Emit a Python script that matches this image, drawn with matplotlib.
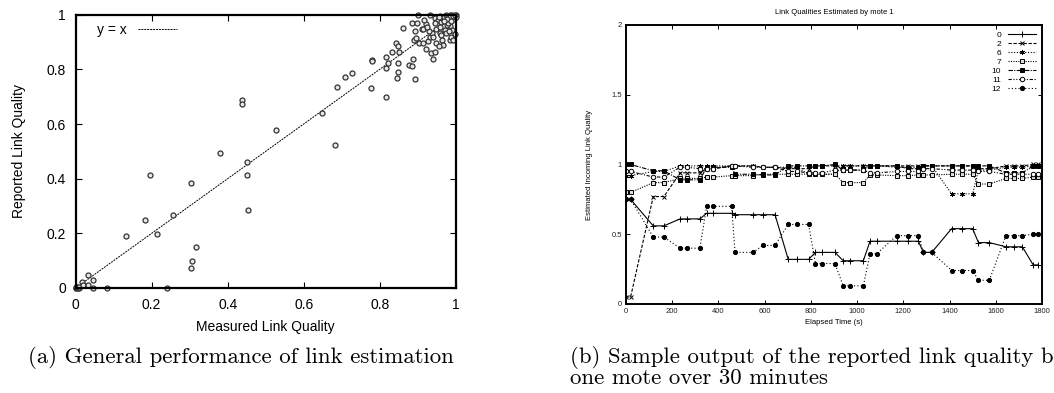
import matplotlib
matplotlib.use("Agg")
import matplotlib.pyplot as plt
import numpy as np

# (a) measured vs reported link quality
measured = [0, 0, 0, 0.003, 0.005, 0.008, 0.01, 0.016, 0.02, 0.032, 0.032, 0.046, 0.046, 0.083, 0.24,
            0.133, 0.182, 0.196, 0.215, 0.257, 0.303, 0.307, 0.316, 0.303, 0.381, 0.437, 0.437, 0.45, 0.45,
            0.454, 0.527, 0.649, 0.683, 0.689, 0.709, 0.726, 0.779, 0.781, 0.777, 0.816, 0.817, 0.818,
            0.821, 0.832, 0.842, 0.847, 0.845, 0.849, 0.849, 0.851, 0.861, 0.877, 0.886, 0.889, 0.893,
            0.884, 0.899, 0.893, 0.891, 0.896, 0.904, 0.913, 0.902, 0.911, 0.915, 0.921, 0.922, 0.928,
            0.932, 0.937, 0.941, 0.934, 0.941, 0.946, 0.932, 0.946, 0.954, 0.948, 0.949, 0.958, 0.962,
            0.965, 0.971, 0.975, 0.968, 0.955, 0.962, 0.965, 0.984, 0.984, 0.988, 0.993, 0.976, 0.98,
            0.96, 0.97, 0.975, 0.98, 0.985, 0.99, 0.99, 0.995, 1.0, 0.995, 0.985, 0.978, 0.992, 1.0,
            0.998, 0.988, 0.97, 0.955, 0.945, 0.93, 0.925, 0.918, 0.96, 0.99, 0.997, 0.982]
reported = [0, 0, 0.002, 0.003, 0.0, 0.0, 0.005, 0.023, 0.01, 0.01, 0.048, 0.029, 0.0, 0.0, 0.0,
            0.190, 0.249, 0.413, 0.198, 0.266, 0.072, 0.100, 0.151, 0.385, 0.495, 0.688, 0.673, 0.46, 0.413,
            0.285, 0.578, 0.639, 0.523, 0.737, 0.771, 0.785, 0.834, 0.832, 0.732, 0.698, 0.846, 0.804,
            0.824, 0.865, 0.898, 0.886, 0.767, 0.791, 0.824, 0.862, 0.95, 0.816, 0.812, 0.838, 0.764,
            0.971, 0.971, 0.941, 0.907, 0.913, 0.898, 0.895, 0.999, 0.946, 0.946, 0.966, 0.873, 0.902,
            0.92, 0.932, 0.92, 0.859, 0.837, 0.863, 0.999, 0.987, 0.981, 0.948, 0.895, 0.932, 0.926,
            0.907, 0.944, 0.932, 0.89, 0.884, 0.975, 0.987, 0.957, 0.907, 0.92, 0.907, 0.963, 0.971,
            0.995, 0.99, 1.0, 0.995, 1.0, 0.99, 1.0, 0.995, 1.0, 0.985, 0.99, 0.985, 0.996, 0.99,
            0.998, 0.978, 0.978, 0.993, 0.97, 0.94, 0.955, 0.98, 0.955, 0.945, 0.93, 0.94]

# (b) link qualities estimated by mote 1
elapsed = [0, 20, 118, 164, 234, 263, 320, 349, 378, 457, 472, 551, 591, 645, 702, 740, 790, 820,
           850, 904, 940, 969, 1027, 1056, 1085, 1171, 1221, 1265, 1287, 1323, 1409, 1453, 1500,
           1525, 1572, 1644, 1679, 1715, 1762, 1784]
mote0 = [0.75, 0.75, 0.56, 0.56, 0.61, 0.61, 0.61, 0.65, 0.65, 0.65, 0.64, 0.64, 0.64, 0.64, 0.32,
         0.32, 0.32, 0.37, 0.37, 0.37, 0.31, 0.31, 0.31, 0.45, 0.45, 0.45, 0.45, 0.45, 0.37, 0.37,
         0.54, 0.54, 0.54, 0.44, 0.44, 0.41, 0.41, 0.41, 0.28, 0.28]
mote2 = [0.05, 0.05, 0.77, 0.77, 0.94, 0.94, 0.94, 0.97, 0.97, 0.99, 0.99, 0.99, 0.98, 0.98, 0.97,
         0.97, 0.97, 0.99, 0.99, 0.99, 0.99, 0.99, 0.99, 0.99, 0.99, 0.99, 0.99, 0.99, 0.99, 0.99,
         0.99, 0.99, 0.99, 0.97, 0.97, 0.99, 0.99, 0.99, 1.0, 1.0]
mote6 = [0.92, 0.92, 0.95, 0.95, 0.99, 0.99, 0.99, 0.99, 0.99, 0.99, 0.99, 0.99, 0.98, 0.98, 0.98,
         0.98, 0.93, 0.93, 0.93, 0.93, 0.99, 0.99, 0.99, 0.99, 0.99, 0.98, 0.98, 0.98, 0.99, 0.99,
         0.79, 0.79, 0.79, 0.96, 0.96, 0.98, 0.98, 0.98, 0.99, 0.99]
mote7 = [0.80, 0.80, 0.87, 0.87, 0.90, 0.90, 0.90, 0.91, 0.91, 0.92, 0.92, 0.92, 0.93, 0.93, 0.93,
         0.93, 0.93, 0.93, 0.93, 0.93, 0.87, 0.87, 0.87, 0.925, 0.925, 0.92, 0.92, 0.925, 0.925,
         0.925, 0.93, 0.93, 0.93, 0.86, 0.86, 0.90, 0.90, 0.90, 0.91, 0.91]
mote10 = [1.0, 1.0, 0.955, 0.955, 0.89, 0.89, 0.89, 0.98, 0.98, 0.98, 0.93, 0.93, 0.925, 0.925,
          0.99, 0.99, 0.99, 0.99, 0.99, 1.0, 0.96, 0.96, 0.96, 0.99, 0.99, 0.99, 0.97, 0.97, 0.99,
          0.99, 0.99, 0.99, 0.99, 0.99, 0.99, 0.94, 0.94, 0.94, 0.99, 0.99]
mote11 = [0.95, 0.95, 0.91, 0.91, 0.98, 0.98, 0.97, 0.97, 0.97, 0.99, 0.99, 0.98, 0.98, 0.98, 0.95,
          0.95, 0.94, 0.94, 0.94, 0.96, 0.96, 0.96, 0.96, 0.94, 0.94, 0.95, 0.95, 0.95, 0.97, 0.97,
          0.96, 0.96, 0.96, 0.95, 0.95, 0.93, 0.93, 0.93, 0.93, 0.93]
mote12 = [0.75, 0.75, 0.48, 0.48, 0.40, 0.40, 0.40, 0.70, 0.70, 0.70, 0.37, 0.37, 0.42, 0.42, 0.57,
          0.57, 0.57, 0.29, 0.29, 0.29, 0.13, 0.13, 0.13, 0.36, 0.36, 0.49, 0.49, 0.49, 0.37, 0.37,
          0.24, 0.24, 0.24, 0.17, 0.17, 0.49, 0.49, 0.49, 0.50, 0.50]
mote_labels = ["0", "2", "6", "7", "10", "11", "12"]

sans = "Liberation Sans"
fig = plt.figure(figsize=(10.54, 3.93), dpi=100)

# ---- left panel
ax1 = fig.add_axes([0.0718, 0.2672, 0.3605, 0.6954])
ax1.plot([0, 1], [0, 1], color="black", linestyle=(0, (2, 1)), linewidth=0.7, label="y = x")
ax1.plot(measured, reported, linestyle="none", marker="o", markersize=3.6,
         markerfacecolor="#e8e8e8", markeredgecolor="#333333", markeredgewidth=0.9, clip_on=False)
ax1.set_xlim(0, 1)
ax1.set_ylim(0, 1)
ax1.set_xticks(np.arange(0, 1.01, 0.2))
ax1.set_yticks(np.arange(0, 1.01, 0.2))
ax1.set_xticklabels(["0", "0.2", "0.4", "0.6", "0.8", "1"], fontfamily=sans, fontsize=10)
ax1.set_yticklabels(["0", "0.2", "0.4", "0.6", "0.8", "1"], fontfamily=sans, fontsize=10)
ax1.tick_params(direction="in", top=True, right=True, length=4, width=0.8, pad=7)
for s in ax1.spines.values():
    s.set_linewidth(1.6)
ax1.set_xlabel("Measured Link Quality", fontfamily=sans, fontsize=10, labelpad=6)
ax1.set_ylabel("Reported Link Quality", fontfamily=sans, fontsize=10, labelpad=15)
ax1.legend(loc="upper left", frameon=False, markerfirst=False, handlelength=2.8,
           prop={"family": sans, "size": 10}, borderaxespad=0.2, bbox_to_anchor=(0.035, 1.0))

# ---- right panel
ax2 = fig.add_axes([0.5939, 0.2265, 0.3947, 0.7099])
series = [mote0, mote2, mote6, mote7, mote10, mote11, mote12]
styles = [
    dict(linestyle="-", marker="+", markersize=4, mfc="black"),
    dict(linestyle=(0, (3, 1.5)), marker="x", markersize=3, mfc="black"),
    dict(linestyle=(0, (1, 1.5)), marker=(6, 2, 0), markersize=3.5, mfc="black"),
    dict(linestyle=(0, (1, 1.2)), marker="s", markersize=3.2, mfc="#dddddd"),
    dict(linestyle=(0, (4, 1.2, 1, 1.2)), marker="s", markersize=3.2, mfc="black"),
    dict(linestyle=(0, (3, 1.5, 1, 1.5, 1, 1.5)), marker="o", markersize=3.2, mfc="white"),
    dict(linestyle=(0, (1, 2)), marker="o", markersize=3.0, mfc="black"),
]
for vals, lab, st in zip(series, mote_labels, styles):
    ax2.plot(elapsed, vals, color="black", linewidth=0.8, label=lab,
             markeredgecolor="black", markeredgewidth=0.7, **st)
ax2.set_xlim(0, 1800)
ax2.set_ylim(0, 2)
ax2.set_xticks(np.arange(0, 1801, 200))
ax2.set_yticks([0, 0.5, 1, 1.5, 2])
ax2.set_yticklabels(["0", "0.5", "1", "1.5", "2"])
ax2.tick_params(direction="in", top=True, right=True, length=3, width=0.7, pad=3, labelsize=5.5,
                labelcolor="#222222")
for lbl in ax2.get_xticklabels() + ax2.get_yticklabels():
    lbl.set_fontfamily(sans)
for s in ax2.spines.values():
    s.set_linewidth(1.4)
ax2.set_xlabel("Elapsed Time (s)", fontfamily=sans, fontsize=5.5, labelpad=3)
ax2.set_ylabel("Estimated Incoming Link Quality", fontfamily=sans, fontsize=5.5, labelpad=13)
ax2.set_title("Link Qualities Estimated by mote 1", fontfamily=sans, fontsize=5.5, pad=8)
ax2.legend(loc="upper right", frameon=False, markerfirst=False, handlelength=3.4,
           prop={"family": sans, "size": 6}, labelspacing=0.15, borderaxespad=0.3,
           handletextpad=0.8)

# ---- captions
fig.text(0.229, 0.09, "(a) General performance of link estimation", fontfamily="cmr10",
         fontsize=16.4, ha="center", va="center")
fig.text(0.541, 0.09, "(b) Sample output of the reported link quality by", fontfamily="cmr10",
         fontsize=16.4, ha="left", va="center")
fig.text(0.541, 0.038, "one mote over 30 minutes", fontfamily="cmr10",
         fontsize=16.4, ha="left", va="center")

fig.savefig("out.png", dpi=100)
